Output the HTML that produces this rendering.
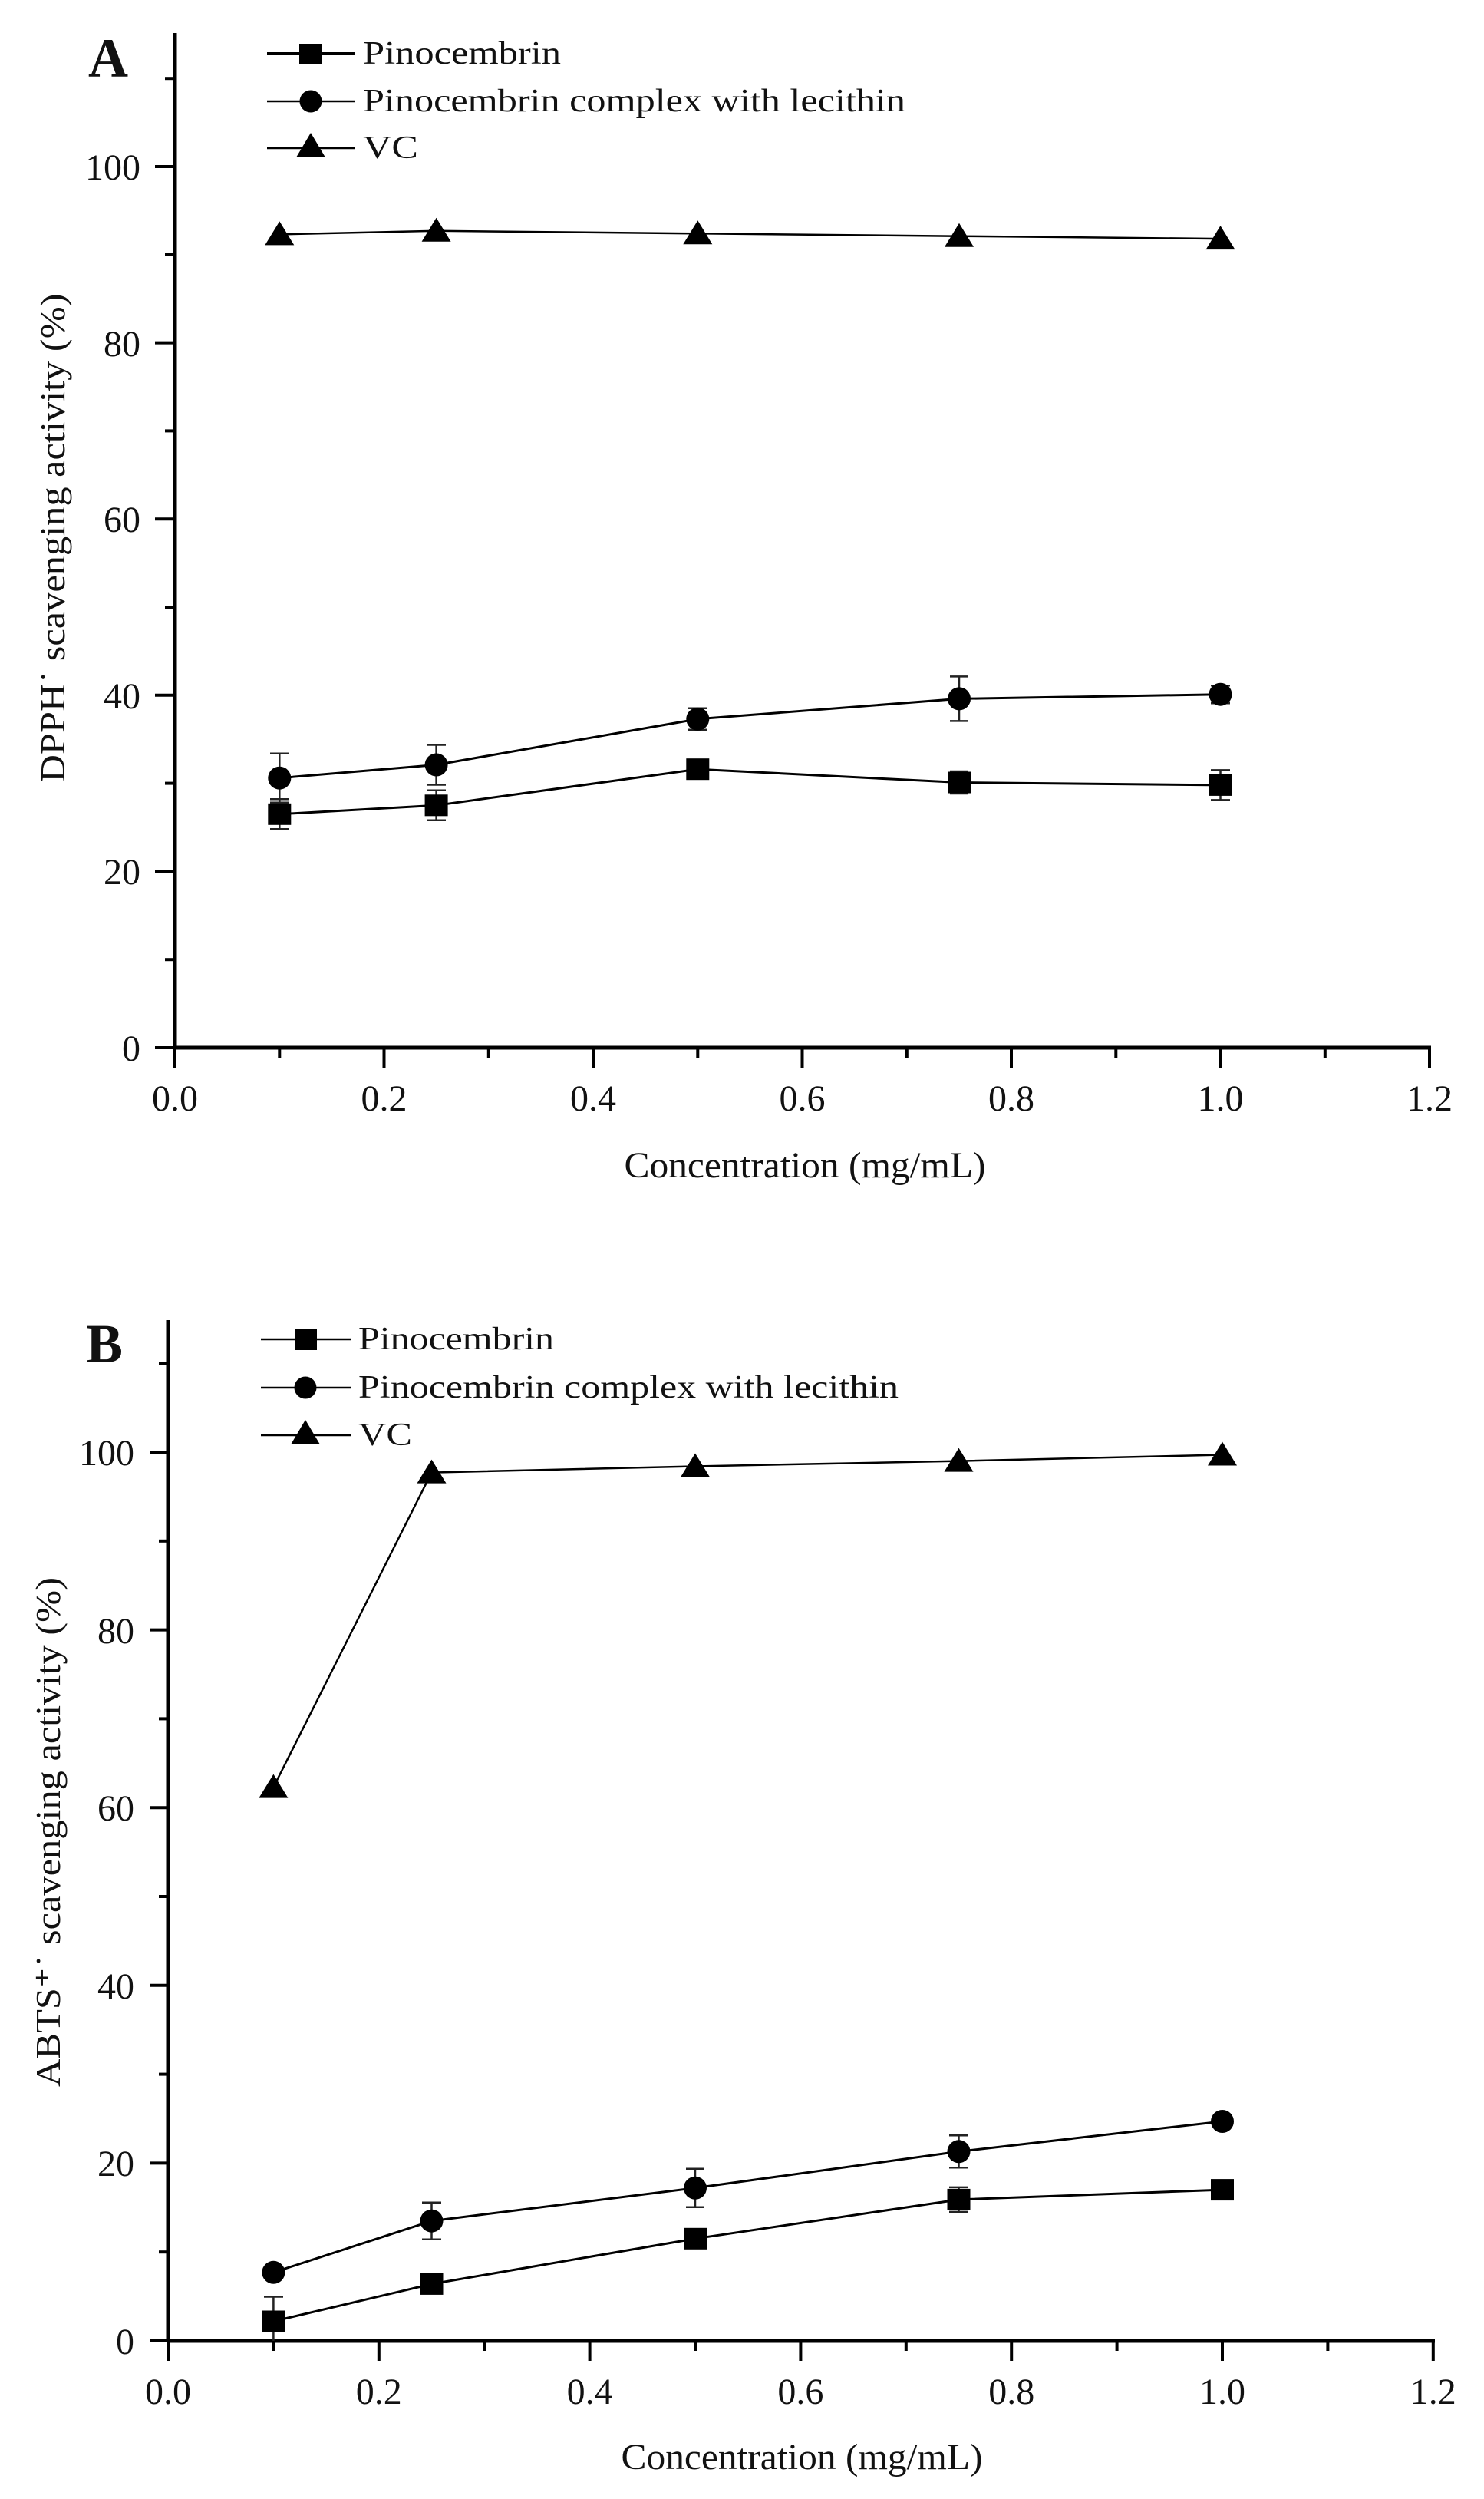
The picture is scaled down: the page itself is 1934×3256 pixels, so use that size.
<!DOCTYPE html>
<html><head><meta charset="utf-8"><style>
html,body{margin:0;padding:0;background:#fff;}
svg{display:block;}
text{font-family:"Liberation Serif",serif;fill:#111;}
</style></head><body>
<svg width="1934" height="3256" viewBox="0 0 1934 3256" xmlns="http://www.w3.org/2000/svg">
<rect width="1934" height="3256" fill="#fff"/>

<!-- ============ PANEL A ============ -->
<g stroke="#000" stroke-width="5" fill="none">
  <line x1="228" y1="43" x2="228" y2="1367"/>
  <line x1="226" y1="1365" x2="1865" y2="1365"/>
</g>
<g stroke="#000" stroke-width="4">
  <line x1="202" y1="1365" x2="228" y2="1365"/><line x1="202" y1="1135.4" x2="228" y2="1135.4"/>
  <line x1="202" y1="905.8" x2="228" y2="905.8"/><line x1="202" y1="676.2" x2="228" y2="676.2"/>
  <line x1="202" y1="446.6" x2="228" y2="446.6"/><line x1="202" y1="217" x2="228" y2="217"/>
  <line x1="215" y1="1250.2" x2="228" y2="1250.2"/><line x1="215" y1="1020.6" x2="228" y2="1020.6"/>
  <line x1="215" y1="791" x2="228" y2="791"/><line x1="215" y1="561.4" x2="228" y2="561.4"/>
  <line x1="215" y1="331.8" x2="228" y2="331.8"/><line x1="215" y1="102.2" x2="228" y2="102.2"/>
  <line x1="228" y1="1365" x2="228" y2="1391"/><line x1="500.5" y1="1365" x2="500.5" y2="1391"/>
  <line x1="773" y1="1365" x2="773" y2="1391"/><line x1="1045.5" y1="1365" x2="1045.5" y2="1391"/>
  <line x1="1318" y1="1365" x2="1318" y2="1391"/><line x1="1590.5" y1="1365" x2="1590.5" y2="1391"/>
  <line x1="1863" y1="1365" x2="1863" y2="1391"/>
  <line x1="364.3" y1="1365" x2="364.3" y2="1378"/><line x1="636.8" y1="1365" x2="636.8" y2="1378"/>
  <line x1="909.3" y1="1365" x2="909.3" y2="1378"/><line x1="1181.8" y1="1365" x2="1181.8" y2="1378"/>
  <line x1="1454.3" y1="1365" x2="1454.3" y2="1378"/><line x1="1726.8" y1="1365" x2="1726.8" y2="1378"/>
</g>
<g font-size="48" text-anchor="end">
  <text x="183" y="1382">0</text><text x="183" y="1152">20</text><text x="183" y="923">40</text>
  <text x="183" y="693">60</text><text x="183" y="464">80</text><text x="183" y="234">100</text>
</g>
<g font-size="48" text-anchor="middle">
  <text x="228" y="1447">0.0</text><text x="500.5" y="1447">0.2</text><text x="773" y="1447">0.4</text>
  <text x="1045.5" y="1447">0.6</text><text x="1318" y="1447">0.8</text><text x="1590.5" y="1447">1.0</text>
  <text x="1863" y="1447">1.2</text>
</g>
<text x="1049" y="1534" font-size="48" text-anchor="middle" textLength="471" lengthAdjust="spacingAndGlyphs">Concentration (mg/mL)</text>
<text transform="translate(84,701) rotate(-90)" font-size="46" text-anchor="middle" textLength="637" lengthAdjust="spacingAndGlyphs">DPPH˙ scavenging activity (%)</text>
<text x="115" y="100" font-size="72" font-weight="bold">A</text>

<g stroke="#000">
  <line x1="348" y1="70" x2="463" y2="70" stroke-width="4"/>
  <line x1="348" y1="132" x2="463" y2="132" stroke-width="2.5"/>
  <line x1="348" y1="193" x2="463" y2="193" stroke-width="2.5"/>
</g>
<rect x="390" y="57" width="29" height="26" fill="#000"/>
<circle cx="405" cy="132" r="14.5" fill="#000"/>
<polygon points="405,173 386,205 424,205" fill="#000"/>
<g font-size="42">
  <text x="473" y="83" textLength="258" lengthAdjust="spacingAndGlyphs">Pinocembrin</text>
  <text x="473" y="145" textLength="707" lengthAdjust="spacingAndGlyphs">Pinocembrin complex with lecithin</text>
  <text x="473" y="206" textLength="72" lengthAdjust="spacingAndGlyphs">VC</text>
</g>

<g fill="none" stroke="#000" stroke-width="3">
  <polyline points="364.3,305.4 568.6,300.8 909.3,304.3 1250,307.7 1590.5,311.1" stroke-width="2.5"/>
  <polyline points="364.3,1013.7 568.6,996.5 909.3,936.8 1250,910.4 1590.5,904.7"/>
  <polyline points="364.3,1060.8 568.6,1049.3 909.3,1002.2 1250,1019.5 1590.5,1022.9"/>
</g>
<g stroke="#222" stroke-width="2.5">
  <path d="M364.3 981.7V1045.7M352 981.7H376M352 1045.7H376"/>
  <path d="M568.6 970.5V1022.5M556 970.5H581M556 1022.5H581"/>
  <path d="M909.3 922.8V950.8M897 922.8H922M897 950.8H922"/>
  <path d="M1250 881.4V939.4M1238 881.4H1262M1238 939.4H1262"/>
  <path d="M1590.5 893.2V916.2M1578 893.2H1603M1578 916.2H1603"/>
  <path d="M364.3 1041.3V1080.3M352 1041.3H376M352 1080.3H376"/>
  <path d="M568.6 1029.8V1068.8M556 1029.8H581M556 1068.8H581"/>
  <path d="M909.3 990V1014M897 990H922M897 1014H922"/>
  <path d="M1250 1005V1034M1238 1005H1262M1238 1034H1262"/>
  <path d="M1590.5 1003.4V1042.4M1578 1003.4H1603M1578 1042.4H1603"/>
</g>
<g fill="#000">
  <polygon points="364.3,288.4 345.3,319.4 383.3,319.4"/>
  <polygon points="568.6,283.8 549.6,314.8 587.6,314.8"/>
  <polygon points="909.3,287.3 890.3,318.3 928.3,318.3"/>
  <polygon points="1250,290.7 1231,321.7 1269,321.7"/>
  <polygon points="1590.5,294.1 1571.5,325.1 1609.5,325.1"/>
  <circle cx="364.3" cy="1013.7" r="15"/><circle cx="568.6" cy="996.5" r="15"/>
  <circle cx="909.3" cy="936.8" r="15"/><circle cx="1250" cy="910.4" r="15"/>
  <circle cx="1590.5" cy="904.7" r="15"/>
  <rect x="349.3" y="1046.8" width="30" height="28"/><rect x="553.6" y="1035.3" width="30" height="28"/>
  <rect x="894.3" y="988.2" width="30" height="28"/><rect x="1235" y="1005.5" width="30" height="28"/>
  <rect x="1575.5" y="1008.9" width="30" height="28"/>
</g>

<!-- ============ PANEL B ============ -->
<g stroke="#000" stroke-width="5" fill="none">
  <line x1="219" y1="1720" x2="219" y2="3052"/>
  <line x1="217" y1="3050" x2="1870" y2="3050"/>
</g>
<g stroke="#000" stroke-width="4">
  <line x1="195" y1="3050" x2="219" y2="3050"/><line x1="195" y1="2818.4" x2="219" y2="2818.4"/>
  <line x1="195" y1="2586.8" x2="219" y2="2586.8"/><line x1="195" y1="2355.2" x2="219" y2="2355.2"/>
  <line x1="195" y1="2123.6" x2="219" y2="2123.6"/><line x1="195" y1="1892" x2="219" y2="1892"/>
  <line x1="207" y1="2934.2" x2="219" y2="2934.2"/><line x1="207" y1="2702.6" x2="219" y2="2702.6"/>
  <line x1="207" y1="2471" x2="219" y2="2471"/><line x1="207" y1="2239.4" x2="219" y2="2239.4"/>
  <line x1="207" y1="2007.8" x2="219" y2="2007.8"/><line x1="207" y1="1776.2" x2="219" y2="1776.2"/>
  <line x1="219" y1="3050" x2="219" y2="3076"/><line x1="493.8" y1="3050" x2="493.8" y2="3076"/>
  <line x1="768.6" y1="3050" x2="768.6" y2="3076"/><line x1="1043.4" y1="3050" x2="1043.4" y2="3076"/>
  <line x1="1318.2" y1="3050" x2="1318.2" y2="3076"/><line x1="1593" y1="3050" x2="1593" y2="3076"/>
  <line x1="1867.8" y1="3050" x2="1867.8" y2="3076"/>
  <line x1="356.4" y1="3050" x2="356.4" y2="3063"/><line x1="631.2" y1="3050" x2="631.2" y2="3063"/>
  <line x1="906" y1="3050" x2="906" y2="3063"/><line x1="1180.8" y1="3050" x2="1180.8" y2="3063"/>
  <line x1="1455.6" y1="3050" x2="1455.6" y2="3063"/><line x1="1730.4" y1="3050" x2="1730.4" y2="3063"/>
</g>
<g font-size="48" text-anchor="end">
  <text x="175" y="3067">0</text><text x="175" y="2835">20</text><text x="175" y="2604">40</text>
  <text x="175" y="2372">60</text><text x="175" y="2141">80</text><text x="175" y="1909">100</text>
</g>
<g font-size="48" text-anchor="middle">
  <text x="219" y="3132">0.0</text><text x="493.8" y="3132">0.2</text><text x="768.6" y="3132">0.4</text>
  <text x="1043.4" y="3132">0.6</text><text x="1318.2" y="3132">0.8</text><text x="1593" y="3132">1.0</text>
  <text x="1867.8" y="3132">1.2</text>
</g>
<text x="1045" y="3217" font-size="48" text-anchor="middle" textLength="471" lengthAdjust="spacingAndGlyphs">Concentration (mg/mL)</text>
<text transform="translate(78,2387) rotate(-90)" font-size="46" text-anchor="middle" textLength="664" lengthAdjust="spacingAndGlyphs">ABTS⁺˙ scavenging activity (%)</text>
<text x="112" y="1775" font-size="72" font-weight="bold">B</text>

<g stroke="#000" stroke-width="2.5">
  <line x1="340" y1="1745" x2="457" y2="1745"/>
  <line x1="340" y1="1808" x2="457" y2="1808"/>
  <line x1="340" y1="1870" x2="457" y2="1870"/>
</g>
<rect x="384" y="1731" width="29" height="28" fill="#000"/>
<circle cx="398" cy="1808" r="14.5" fill="#000"/>
<polygon points="398,1850 379,1882 417,1882" fill="#000"/>
<g font-size="42">
  <text x="467" y="1758" textLength="255" lengthAdjust="spacingAndGlyphs">Pinocembrin</text>
  <text x="467" y="1821" textLength="704" lengthAdjust="spacingAndGlyphs">Pinocembrin complex with lecithin</text>
  <text x="467" y="1883" textLength="70" lengthAdjust="spacingAndGlyphs">VC</text>
</g>

<g fill="none" stroke="#000" stroke-width="3">
  <polyline points="356.4,2328.6 562.5,1918.6 906,1910.5 1249.5,1903.6 1593,1895.5" stroke-width="2.5"/>
  <polyline points="356.4,2960.8 562.5,2893.7 906,2850.8 1249.5,2803.3 1593,2764"/>
  <polyline points="356.4,3024.5 562.5,2975.9 906,2916.8 1249.5,2865.9 1593,2853.1"/>
</g>
<g stroke="#222" stroke-width="2.5">
  <path d="M356.4 2992.5V3050M344 2992.5H369"/>
  <path d="M562.5 2869.7V2917.7M550 2869.7H575M550 2917.7H575"/>
  <path d="M906 2825.8V2875.8M894 2825.8H918M894 2875.8H918"/>
  <path d="M1249.5 2782.3V2824.3M1237 2782.3H1262M1237 2824.3H1262"/>
  <path d="M1249.5 2849.9V2881.9M1237 2849.9H1262M1237 2881.9H1262"/>
  <path d="M906 2904.8V2928.8M894 2904.8H918M894 2928.8H918"/>
</g>
<g fill="#000">
  <polygon points="356.4,2311.6 337.4,2342.6 375.4,2342.6"/>
  <polygon points="562.5,1901.6 543.5,1932.6 581.5,1932.6"/>
  <polygon points="906,1893.5 887,1924.5 925,1924.5"/>
  <polygon points="1249.5,1886.6 1230.5,1917.6 1268.5,1917.6"/>
  <polygon points="1593,1878.5 1574,1909.5 1612,1909.5"/>
  <circle cx="356.4" cy="2960.8" r="15"/><circle cx="562.5" cy="2893.7" r="15"/>
  <circle cx="906" cy="2850.8" r="15"/><circle cx="1249.5" cy="2803.3" r="15"/>
  <circle cx="1593" cy="2764" r="15"/>
  <rect x="341.4" y="3010.5" width="30" height="28"/><rect x="547.5" y="2961.9" width="30" height="28"/>
  <rect x="891" y="2902.8" width="30" height="28"/><rect x="1234.5" y="2851.9" width="30" height="28"/>
  <rect x="1578" y="2839.1" width="30" height="28"/>
</g>
</svg>
</body></html>
